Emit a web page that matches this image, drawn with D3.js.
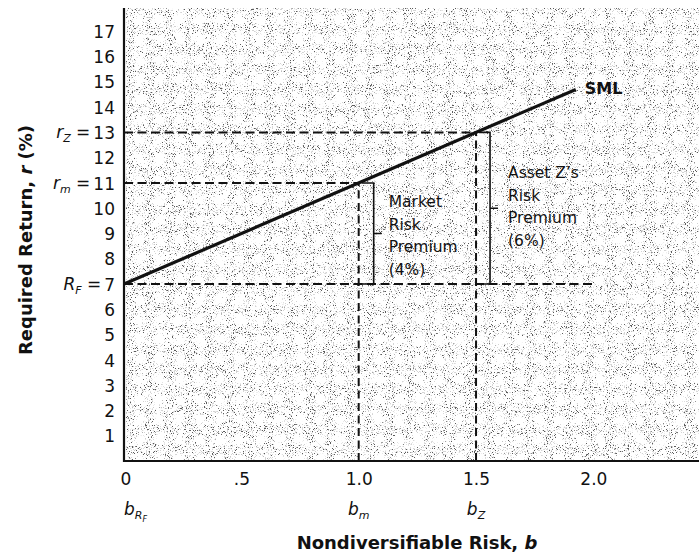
<!DOCTYPE html>
<html>
<head>
<meta charset="utf-8">
<script src="https://cdn.jsdelivr.net/npm/d3@7"></script>
<style>
  html, body { margin: 0; padding: 0; background: #fff; }
  svg { display: block; }
  text { font-family: "DejaVu Sans", sans-serif; fill: #111; }
</style>
</head>
<body>
<svg id="chart" width="699" height="556"></svg>
<script>
// Security market line: required return vs. nondiversifiable risk (beta)
const betaTicks = [0, 0.5, 1.0, 1.5, 2.0];
const betaTickLabels = ["0", ".5", "1.0", "1.5", "2.0"];
const returnTicks = [1, 2, 3, 4, 5, 6, 7, 8, 9, 10, 11, 12, 13, 14, 15, 16, 17];

const riskFreeRate = 7;     // R_F
const marketReturn = 11;    // r_m
const assetZReturn = 13;    // r_Z
const betaMarket = 1.0;     // b_m
const betaZ = 1.5;          // b_Z
const riskFreeLineEnd = 2.0;

// SML end points (beta, return %)
const smlBeta = [0, 1.925];
const smlReturn = [7, 14.7];

const marketPremium = 4;
const assetZPremium = 6;

const svg = d3.select("#chart");
const W = 699, H = 556;
const margin = { left: 124, right: 0, top: 6, bottom: 95 };

const x = d3.scaleLinear().domain([0, 2.45]).range([margin.left, W - margin.right]);
const y = d3.scaleLinear().domain([0, 18]).range([H - margin.bottom, margin.top]);

// stippled paper texture behind the plot
const defs = svg.append("defs");
const f = defs.append("filter").attr("id", "grain")
  .attr("x", 0).attr("y", 0).attr("width", 1).attr("height", 1)
  .attr("filterUnits", "objectBoundingBox");
f.append("feTurbulence").attr("type", "fractalNoise").attr("baseFrequency", 0.95)
  .attr("numOctaves", 2).attr("seed", 7).attr("result", "noise");
f.append("feColorMatrix").attr("in", "noise").attr("type", "matrix")
  .attr("values", "0 0 0 0 0.1  0 0 0 0 0.1  0 0 0 0 0.1  16 0 0 0 -10.4")
  .attr("result", "dark");
f.append("feColorMatrix").attr("in", "noise").attr("type", "matrix")
  .attr("values", "0 0 0 0 0.66  0 0 0 0 0.66  0 0 0 0 0.66  0 16 0 0 -9.9")
  .attr("result", "grey");
f.append("feMerge").call(m => {
  m.append("feMergeNode").attr("in", "grey");
  m.append("feMergeNode").attr("in", "dark");
});

svg.append("rect")
  .attr("x", x(0) + 2).attr("y", 8)
  .attr("width", W - x(0) - 2).attr("height", y(0) - 8 - 1)
  .attr("fill", "#fff")
  .attr("filter", "url(#grain)");

// reference dashed lines
const dash = "9,4.5";
const hLines = [
  { r: assetZReturn, b: betaZ },
  { r: marketReturn, b: betaMarket },
  { r: riskFreeRate, b: riskFreeLineEnd }
];
svg.selectAll(".hdash").data(hLines).join("line")
  .attr("x1", x(0)).attr("x2", d => x(d.b))
  .attr("y1", d => y(d.r)).attr("y2", d => y(d.r))
  .attr("stroke", "#111").attr("stroke-width", 2).attr("stroke-dasharray", dash);

const vLines = [
  { b: betaMarket, r: marketReturn },
  { b: betaZ, r: assetZReturn }
];
svg.selectAll(".vdash").data(vLines).join("line")
  .attr("x1", d => x(d.b)).attr("x2", d => x(d.b))
  .attr("y1", y(0)).attr("y2", d => y(d.r))
  .attr("stroke", "#111").attr("stroke-width", 2).attr("stroke-dasharray", "8,4.5");

// security market line
const sml = smlBeta.map((b, i) => [b, smlReturn[i]]);
svg.append("path")
  .attr("d", d3.line().x(d => x(d[0])).y(d => y(d[1]))(sml))
  .attr("fill", "none").attr("stroke", "#111").attr("stroke-width", 3.2);

svg.append("text")
  .attr("x", x(smlBeta[1]) + 9).attr("y", y(smlReturn[1]) + 5)
  .attr("font-weight", 700).attr("font-size", 16).text("SML");

// premium brackets
function bracket(b, rLow, rHigh, gapPx, widthPx, tickPx) {
  const x0 = x(b) + gapPx, x1 = x0 + widthPx;
  const yMid = y((rLow + rHigh) / 2);
  const p = d3.path();
  p.moveTo(x0, y(rHigh)); p.lineTo(x1, y(rHigh)); p.lineTo(x1, y(rLow)); p.lineTo(x0, y(rLow));
  p.moveTo(x1, yMid); p.lineTo(x1 + tickPx, yMid);
  svg.append("path").attr("d", p.toString())
    .attr("fill", "none").attr("stroke", "#111").attr("stroke-width", 1.6);
  return x1 + tickPx;
}
const mEnd = bracket(betaMarket, riskFreeRate, riskFreeRate + marketPremium, 3, 12, 8);
const zEnd = bracket(betaZ, riskFreeRate, riskFreeRate + assetZPremium, 3, 11, 8);

function multiline(xPos, yTop, lines) {
  const t = svg.append("text").attr("font-size", 15.5).attr("x", xPos).attr("y", yTop);
  lines.forEach((s, i) => t.append("tspan").attr("x", xPos).attr("dy", i === 0 ? 0 : 22.5).text(s));
}
multiline(mEnd + 7, 207, ["Market", "Risk", "Premium", `(${marketPremium}%)`]);
multiline(zEnd + 10, 178, ["Asset Z\u2019s", "Risk", "Premium", `(${assetZPremium}%)`]);

// axes
const yAxis = svg.append("g").attr("transform", `translate(${x(0)},0)`)
  .call(d3.axisLeft(y).tickValues(returnTicks).tickSize(0).tickPadding(9).tickFormat(d3.format("d")));
yAxis.select(".domain").remove();
yAxis.selectAll("text").attr("font-size", 17).attr("font-family", "DejaVu Sans, sans-serif").attr("fill", "#111")
  .attr("dy", "0.36em");

const xAxis = svg.append("g").attr("transform", `translate(0,${y(0)})`)
  .call(d3.axisBottom(x).tickValues(betaTicks).tickSize(0).tickPadding(12)
    .tickFormat((d, i) => betaTickLabels[i]));
xAxis.select(".domain").remove();
xAxis.selectAll("text").attr("font-size", 17).attr("font-family", "DejaVu Sans, sans-serif").attr("fill", "#111");
xAxis.selectAll(".tick").filter(d => d === 0).select("text").attr("text-anchor", "start").attr("dx", -4);

svg.append("line").attr("x1", x(0)).attr("x2", x(0)).attr("y1", 8).attr("y2", y(0) + 1)
  .attr("stroke", "#111").attr("stroke-width", 2.2);
svg.append("line").attr("x1", x(0) - 1).attr("x2", W).attr("y1", y(0)).attr("y2", y(0))
  .attr("stroke", "#111").attr("stroke-width", 2.2);

// symbolic labels next to the y ticks
const yLabels = [
  { r: assetZReturn, main: "r", sub: "Z" },
  { r: marketReturn, main: "r", sub: "m" },
  { r: riskFreeRate, main: "R", sub: "F" }
];
yLabels.forEach(d => {
  const tick = yAxis.selectAll(".tick").filter(v => v === d.r).select("text").node();
  const w = tick.getComputedTextLength();
  const xEnd = x(0) - 9 - w - 3;
  const t = svg.append("text").attr("x", xEnd).attr("y", y(d.r) + 6)
    .attr("text-anchor", "end").attr("font-size", 17);
  t.append("tspan").attr("font-style", "italic").text(d.main);
  t.append("tspan").attr("font-style", "italic").attr("font-size", 11).attr("dy", 4).text(d.sub);
  t.append("tspan").attr("dy", -4).text(" =");
});

// symbolic labels under the x ticks
const xLabels = [
  { b: 0, sub: "R", subsub: "F", anchor: "start" },
  { b: betaMarket, sub: "m", anchor: "middle" },
  { b: betaZ, sub: "Z", anchor: "middle" }
];
xLabels.forEach(d => {
  const t = svg.append("text").attr("x", x(d.b)).attr("y", 515)
    .attr("text-anchor", d.anchor).attr("font-size", 17).attr("font-style", "italic");
  t.append("tspan").text("b");
  t.append("tspan").attr("font-size", 11).attr("dy", 4).text(d.sub);
  if (d.subsub) t.append("tspan").attr("font-size", 8).attr("dy", 3).text(d.subsub);
});

// axis titles
svg.append("text").attr("x", 417).attr("y", 549).attr("text-anchor", "middle")
  .attr("font-weight", 700).attr("font-size", 18)
  .call(t => {
    t.append("tspan").text("Nondiversifiable Risk, ");
    t.append("tspan").attr("font-style", "italic").text("b");
  });

svg.append("text").attr("transform", "translate(32,240) rotate(-90)").attr("text-anchor", "middle")
  .attr("font-weight", 700).attr("font-size", 18)
  .call(t => {
    t.append("tspan").text("Required Return, ");
    t.append("tspan").attr("font-style", "italic").text("r");
    t.append("tspan").text(" (%)");
  });
</script>
</body>
</html>
